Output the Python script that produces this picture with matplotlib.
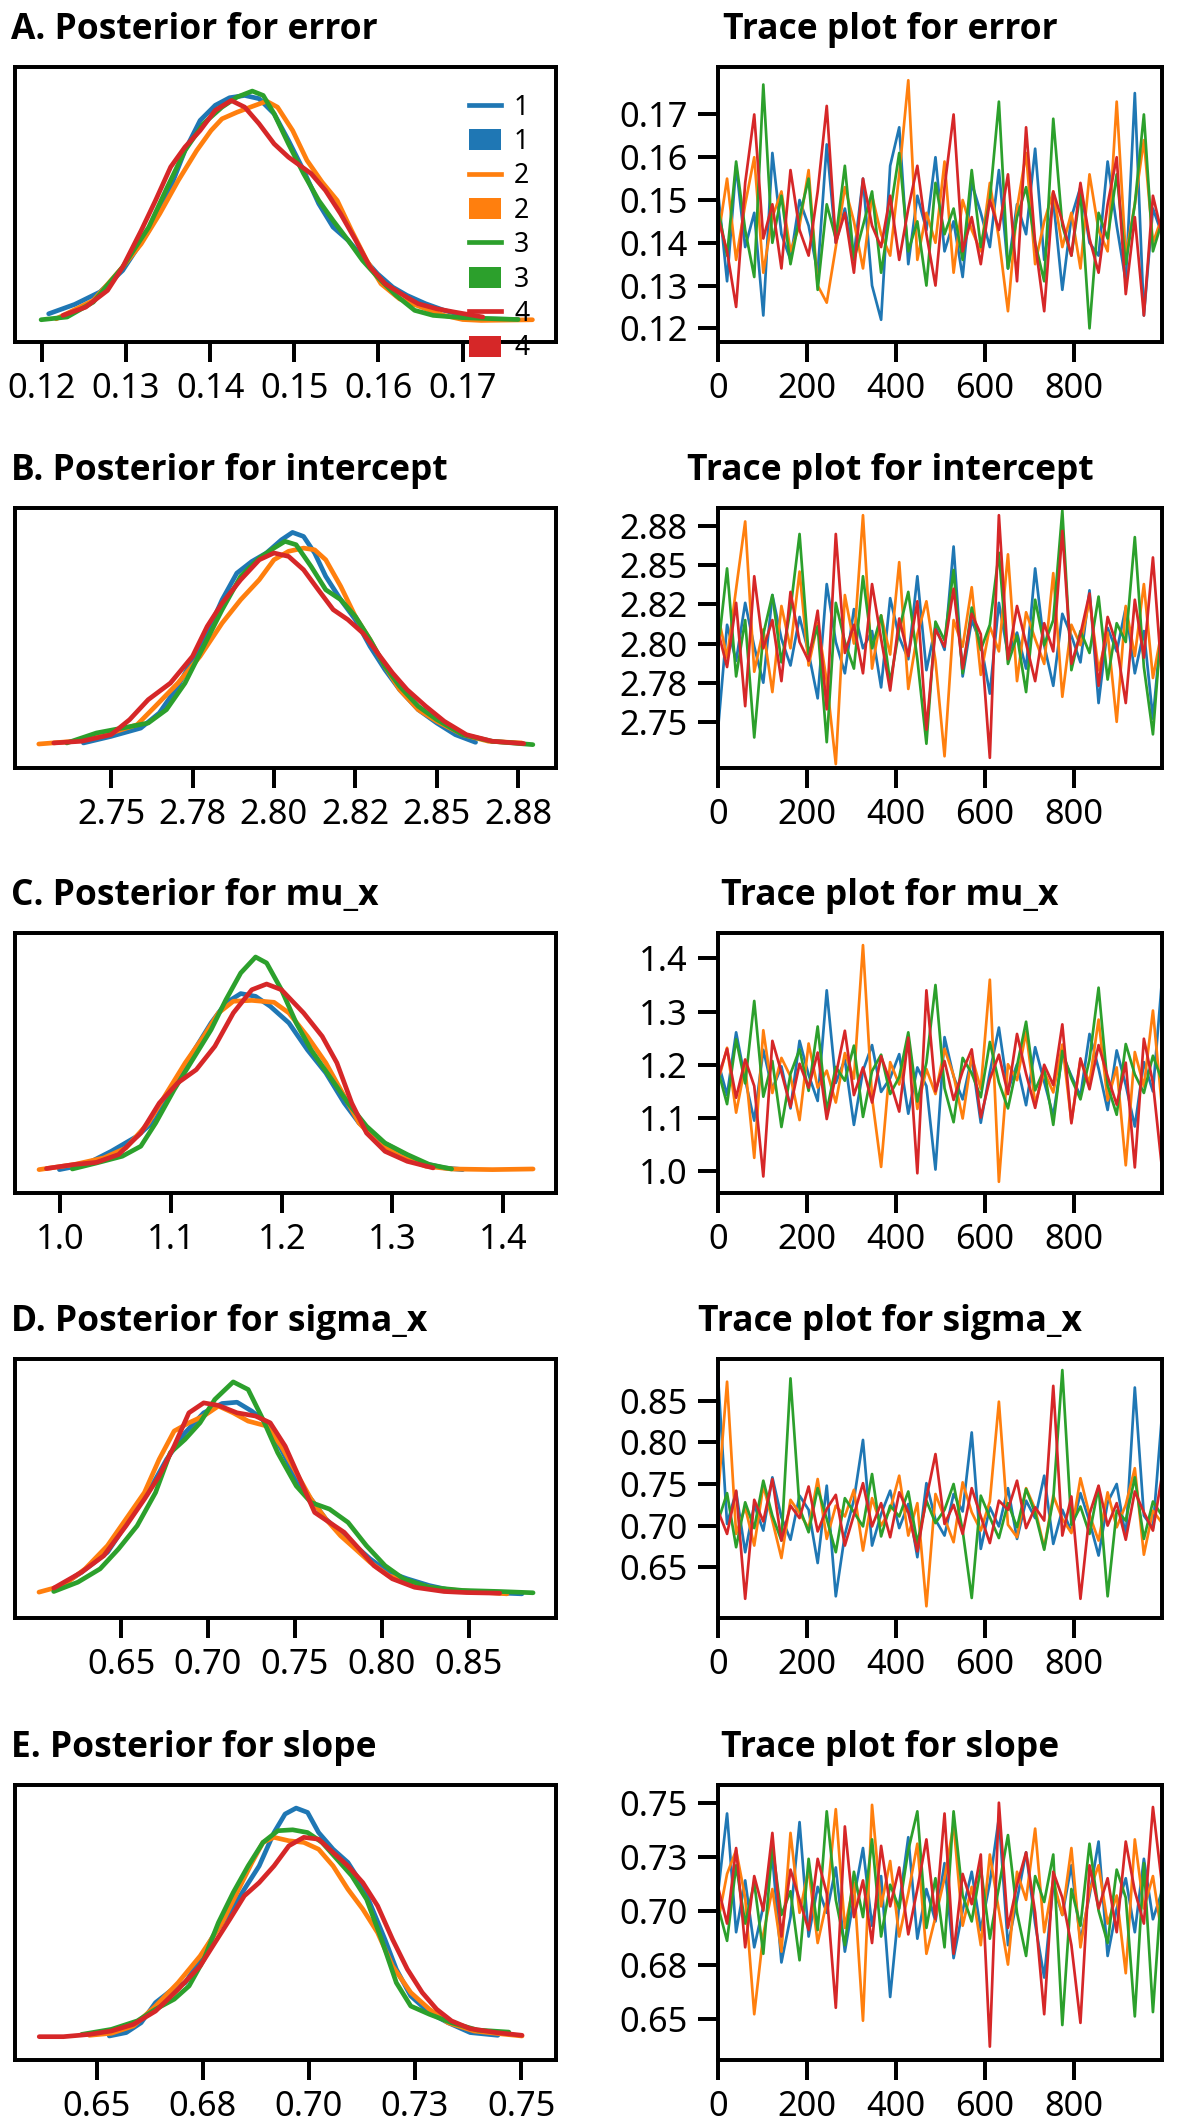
import matplotlib.pyplot as plt
import numpy as np
from matplotlib.lines import Line2D
from matplotlib.patches import Patch

plt.rcParams["font.family"] = ["Noto Sans", "DejaVu Sans"]
TITLE_FONT = ["Open Sans", "DejaVu Sans"]

CHAINS = ["1", "2", "3", "4"]
COLORS = ["#1f77b4", "#ff7f0e", "#2ca02c", "#d62728"]
PARAMS = ["error", "intercept", "mu_x", "sigma_x", "slope"]
LETTERS = ["A", "B", "C", "D", "E"]

# ── posterior densities (relative density, 100 = tallest curve of the panel) ──

error_kde_x = [
    [0.1208, 0.1239, 0.1269, 0.1296, 0.1327, 0.1353, 0.1370, 0.1388, 0.1406, 0.1423, 0.1441, 0.1458, 0.1476, 0.1493,
     0.1511, 0.1529, 0.1546, 0.1564, 0.1581, 0.1599, 0.1617, 0.1634, 0.1656, 0.1678, 0.1700, 0.1722, 0.1766],
    [0.1217, 0.1261, 0.1296, 0.1318, 0.1340, 0.1362, 0.1384, 0.1401, 0.1414, 0.1432, 0.1450, 0.1467, 0.1480, 0.1498,
     0.1515, 0.1533, 0.1551, 0.1568, 0.1586, 0.1603, 0.1625, 0.1656, 0.1678, 0.1700, 0.1722, 0.1783],
    [0.1199, 0.1230, 0.1261, 0.1296, 0.1327, 0.1349, 0.1370, 0.1392, 0.1414, 0.1432, 0.1450, 0.1463, 0.1476, 0.1493,
     0.1511, 0.1529, 0.1546, 0.1564, 0.1581, 0.1599, 0.1621, 0.1643, 0.1665, 0.1700, 0.1766],
    [0.1225, 0.1252, 0.1278, 0.1296, 0.1318, 0.1335, 0.1353, 0.1370, 0.1388, 0.1406, 0.1425, 0.1441, 0.1458, 0.1476,
     0.1493, 0.1520, 0.1537, 0.1555, 0.1573, 0.1590, 0.1608, 0.1630, 0.1647, 0.1669, 0.1691, 0.1724],
]
error_kde_y = [
    [2.9, 7.0, 12.4, 21.8, 39.2, 58.1, 74.1, 87.2, 93.8, 97.1, 98.1, 96.7, 90.1, 78.5,
     65.4, 50.9, 40.7, 34.9, 27.6, 20.3, 14.5, 10.9, 7.3, 4.4, 2.2, 0.7, 0.4],
    [0.7, 8.7, 23.3, 33.4, 46.5, 61.0, 74.1, 82.8, 87.9, 90.8, 93.3, 95.6, 93.0, 82.8,
     69.8, 60.3, 52.3, 39.2, 26.2, 16.0, 9.4, 5.1, 2.2, 0.4, 0.0, 0.3],
    [0.3, 1.5, 8.0, 23.3, 40.7, 58.1, 74.1, 85.8, 93.0, 97.4, 100.0, 98.1, 90.1, 77.0,
     64.0, 52.3, 43.6, 34.9, 26.2, 18.9, 10.9, 4.4, 2.2, 1.2, 0.4],
    [2.2, 5.8, 13.1, 23.3, 39.2, 52.3, 66.9, 75.6, 82.8, 91.6, 95.9, 93.0, 85.8, 77.0,
     71.2, 64.0, 56.7, 46.5, 34.9, 23.3, 16.0, 10.9, 7.3, 5.1, 3.6, 1.5],
]

intercept_kde_x = [
    [2.7415, 2.7500, 2.7591, 2.7648, 2.7705, 2.7750, 2.7795, 2.7841, 2.7886, 2.7932, 2.7977, 2.8023, 2.8057, 2.8091,
     2.8125, 2.8159, 2.8205, 2.8250, 2.8295, 2.8341, 2.8386, 2.8443, 2.8500, 2.8557, 2.8619],
    [2.7278, 2.7386, 2.7500, 2.7580, 2.7636, 2.7705, 2.7773, 2.7841, 2.7898, 2.7955, 2.8000, 2.8045, 2.8091, 2.8125,
     2.8159, 2.8205, 2.8250, 2.8295, 2.8341, 2.8386, 2.8443, 2.8500, 2.8580, 2.8659, 2.8761],
    [2.7364, 2.7455, 2.7534, 2.7614, 2.7670, 2.7727, 2.7784, 2.7841, 2.7898, 2.7955, 2.8000, 2.8034, 2.8068, 2.8114,
     2.8159, 2.8205, 2.8250, 2.8295, 2.8341, 2.8386, 2.8443, 2.8500, 2.8580, 2.8670, 2.8795],
    [2.7324, 2.7409, 2.7500, 2.7557, 2.7614, 2.7682, 2.7750, 2.7795, 2.7841, 2.7898, 2.7955, 2.8000, 2.8045, 2.8091,
     2.8136, 2.8182, 2.8227, 2.8273, 2.8318, 2.8364, 2.8409, 2.8466, 2.8523, 2.8591, 2.8670, 2.8767],
]
intercept_kde_y = [
    [0.8, 3.9, 7.8, 14.9, 27.5, 40.0, 52.6, 68.3, 80.8, 86.3, 90.3, 96.5, 100.0, 98.1,
     90.3, 79.3, 68.3, 58.9, 46.3, 35.3, 25.9, 16.5, 10.2, 4.7, 1.1],
    [0.3, 1.6, 5.5, 9.4, 18.1, 29.0, 41.6, 57.3, 68.3, 77.7, 87.1, 91.1, 92.6, 91.8,
     87.1, 74.6, 60.4, 49.5, 36.9, 25.9, 16.5, 11.0, 4.7, 1.6, 0.8],
    [0.8, 5.5, 7.8, 10.2, 16.5, 29.0, 46.3, 63.6, 79.3, 87.9, 92.6, 95.8, 94.2, 84.0,
     73.0, 68.3, 60.4, 49.5, 36.9, 27.5, 18.1, 11.8, 4.7, 1.6, 0.0],
    [0.8, 1.6, 4.7, 11.8, 21.2, 29.0, 41.6, 55.7, 66.7, 77.7, 87.1, 90.3, 88.7, 82.4,
     73.0, 63.6, 58.9, 52.6, 43.2, 33.8, 25.9, 18.1, 11.0, 4.7, 1.6, 0.5],
]

mu_x_kde_x = [
    [0.9990, 1.0224, 1.0458, 1.0692, 1.0860, 1.1027, 1.1194, 1.1361, 1.1495, 1.1629, 1.1763, 1.1896, 1.2064, 1.2231,
     1.2398, 1.2565, 1.2699, 1.2866, 1.3067, 1.3268, 1.3468, 1.3635],
    [0.9806, 1.0124, 1.0391, 1.0592, 1.0793, 1.0960, 1.1127, 1.1294, 1.1428, 1.1562, 1.1729, 1.1930, 1.2064, 1.2231,
     1.2398, 1.2565, 1.2699, 1.2866, 1.3067, 1.3301, 1.3535, 1.3903, 1.4271],
    [1.0107, 1.0324, 1.0559, 1.0726, 1.0860, 1.1027, 1.1194, 1.1361, 1.1495, 1.1629, 1.1763, 1.1863, 1.1997, 1.2130,
     1.2264, 1.2431, 1.2599, 1.2766, 1.2933, 1.3134, 1.3334, 1.3535],
    [0.9873, 1.0124, 1.0324, 1.0525, 1.0726, 1.0893, 1.1060, 1.1227, 1.1395, 1.1562, 1.1729, 1.1863, 1.1997, 1.2197,
     1.2365, 1.2498, 1.2632, 1.2766, 1.2933, 1.3134, 1.3368],
]
mu_x_kde_y = [
    [0.0, 2.4, 8.6, 15.7, 23.5, 39.2, 54.9, 69.0, 78.4, 82.8, 81.5, 76.8, 69.0, 56.4,
     45.5, 31.3, 21.9, 14.1, 8.6, 3.1, 0.8, 0.0],
    [0.0, 2.4, 5.5, 10.2, 21.9, 36.1, 50.2, 62.7, 73.7, 79.2, 79.6, 78.7, 73.7, 62.7,
     50.2, 34.5, 21.9, 12.5, 6.3, 1.6, 0.3, 0.0, 0.3],
    [0.3, 3.1, 6.3, 11.0, 21.9, 37.6, 51.7, 65.8, 79.9, 92.5, 100.0, 97.2, 84.6, 69.0,
     56.4, 43.9, 31.3, 20.4, 12.5, 7.1, 2.4, 0.3],
    [0.5, 2.4, 3.4, 7.1, 17.2, 31.3, 40.8, 47.0, 58.0, 73.7, 84.6, 87.3, 84.6, 73.7,
     62.7, 50.2, 31.3, 17.2, 8.6, 3.9, 0.8],
]

sigma_x_kde_x = [
    [0.6112, 0.6272, 0.6421, 0.6549, 0.6655, 0.6762, 0.6868, 0.6975, 0.7081, 0.7167, 0.7252, 0.7337, 0.7422, 0.7508,
     0.7593, 0.7678, 0.7763, 0.7848, 0.7933, 0.8040, 0.8146, 0.8274, 0.8402, 0.8572, 0.8807],
    [0.6027, 0.6166, 0.6293, 0.6421, 0.6528, 0.6634, 0.6719, 0.6805, 0.6890, 0.6975, 0.7060, 0.7145, 0.7231, 0.7337,
     0.7422, 0.7508, 0.7593, 0.7678, 0.7763, 0.7848, 0.7933, 0.8040, 0.8146, 0.8317, 0.8487, 0.8721],
    [0.6112, 0.6251, 0.6379, 0.6485, 0.6592, 0.6698, 0.6783, 0.6868, 0.6954, 0.7039, 0.7145, 0.7231, 0.7316, 0.7401,
     0.7508, 0.7593, 0.7699, 0.7806, 0.7912, 0.8019, 0.8125, 0.8274, 0.8466, 0.8679, 0.8871],
    [0.6112, 0.6272, 0.6400, 0.6528, 0.6634, 0.6719, 0.6805, 0.6890, 0.6975, 0.7060, 0.7167, 0.7273, 0.7358, 0.7444,
     0.7529, 0.7614, 0.7699, 0.7784, 0.7870, 0.7955, 0.8061, 0.8189, 0.8359, 0.8487, 0.8679],
]
sigma_x_kde_y = [
    [1.6, 10.2, 19.6, 35.3, 47.8, 63.5, 76.0, 85.4, 89.8, 90.4, 86.2, 80.7, 68.2, 54.1,
     44.7, 35.3, 29.0, 22.7, 16.5, 10.2, 7.1, 3.9, 1.6, 0.8, 0.0],
    [0.8, 3.9, 11.8, 22.7, 35.3, 47.8, 63.5, 76.8, 80.7, 83.9, 88.6, 85.4, 81.5, 79.2,
     69.7, 57.2, 44.7, 35.3, 27.4, 21.2, 14.9, 8.6, 5.5, 2.4, 1.3, 0.0],
    [1.1, 5.5, 11.8, 21.2, 32.1, 47.8, 66.6, 72.9, 80.7, 91.7, 100.0, 96.4, 82.3, 66.6,
     50.9, 43.1, 40.0, 33.7, 22.7, 13.3, 7.1, 3.1, 1.6, 1.1, 0.5],
    [2.7, 10.2, 18.0, 32.1, 44.7, 55.6, 69.7, 85.4, 90.1, 88.9, 85.4, 83.9, 80.7, 69.7,
     54.1, 38.4, 33.7, 29.0, 21.2, 13.3, 7.1, 3.1, 1.1, 0.6, 0.3],
]

slope_kde_x = [
    [0.6530, 0.6570, 0.6605, 0.6639, 0.6674, 0.6709, 0.6744, 0.6779, 0.6814, 0.6848, 0.6883, 0.6918, 0.6944, 0.6970,
     0.6997, 0.7023, 0.7057, 0.7092, 0.7127, 0.7153, 0.7179, 0.7206, 0.7240, 0.7284, 0.7328, 0.7380, 0.7445],
    [0.6483, 0.6535, 0.6587, 0.6639, 0.6692, 0.6744, 0.6796, 0.6831, 0.6866, 0.6892, 0.6918, 0.6953, 0.6988, 0.7023,
     0.7057, 0.7092, 0.7127, 0.7162, 0.7197, 0.7240, 0.7284, 0.7328, 0.7389, 0.7449, 0.7502],
    [0.6465, 0.6535, 0.6596, 0.6639, 0.6683, 0.6718, 0.6753, 0.6787, 0.6822, 0.6857, 0.6892, 0.6927, 0.6962, 0.6997,
     0.7031, 0.7066, 0.7101, 0.7136, 0.7171, 0.7206, 0.7240, 0.7284, 0.7336, 0.7397, 0.7471],
    [0.6365, 0.6422, 0.6483, 0.6535, 0.6587, 0.6639, 0.6692, 0.6744, 0.6779, 0.6814, 0.6848, 0.6883, 0.6918, 0.6953,
     0.6988, 0.7023, 0.7057, 0.7092, 0.7127, 0.7162, 0.7197, 0.7232, 0.7267, 0.7301, 0.7336, 0.7380, 0.7441, 0.7502],
]
slope_kde_y = [
    [0.3, 1.8, 6.1, 14.9, 20.0, 23.6, 33.9, 45.5, 54.3, 64.5, 74.7, 89.3, 97.4, 100.0,
     98.1, 89.3, 82.0, 76.2, 66.0, 54.3, 42.6, 29.5, 17.8, 10.5, 6.1, 1.8, 0.6],
    [0.6, 1.5, 4.7, 13.4, 23.6, 35.3, 49.9, 63.1, 76.2, 85.0, 87.2, 85.7, 85.0, 82.0,
     74.7, 64.5, 55.8, 45.5, 30.9, 19.3, 12.0, 6.1, 2.5, 1.3, 0.3],
    [1.0, 3.2, 6.9, 12.0, 16.4, 22.2, 33.9, 49.9, 63.1, 74.7, 85.0, 90.1, 90.5, 89.3,
     85.0, 77.7, 70.4, 60.1, 42.6, 23.6, 13.4, 9.8, 6.1, 2.9, 2.0],
    [0.0, 0.0, 1.0, 2.5, 5.4, 11.2, 20.7, 30.9, 41.2, 51.4, 61.6, 67.4, 74.7, 83.5,
     87.2, 86.4, 80.6, 74.7, 67.4, 57.2, 42.6, 29.5, 19.3, 12.0, 6.9, 3.5, 1.8, 0.6],
]

N_DRAWS = 1000

error_trace = [
    [0.152, 0.131, 0.158, 0.139, 0.147, 0.123, 0.161, 0.142, 0.136, 0.150, 0.144, 0.133, 0.163, 0.140, 0.148, 0.137,
     0.155, 0.130, 0.122, 0.158, 0.167, 0.135, 0.151, 0.143, 0.160, 0.138, 0.145, 0.132, 0.154, 0.147, 0.139, 0.157,
     0.134, 0.149, 0.142, 0.162, 0.136, 0.150, 0.129, 0.146, 0.153, 0.140, 0.137, 0.159, 0.144, 0.131, 0.175, 0.123,
     0.148, 0.142],
    [0.141, 0.155, 0.136, 0.149, 0.160, 0.133, 0.146, 0.152, 0.138, 0.144, 0.157, 0.130, 0.126, 0.139, 0.153, 0.145,
     0.134, 0.151, 0.142, 0.137, 0.156, 0.178, 0.136, 0.147, 0.140, 0.159, 0.133, 0.150, 0.143, 0.138, 0.154, 0.141,
     0.124, 0.148, 0.161, 0.135, 0.145, 0.152, 0.139, 0.147, 0.134, 0.156, 0.143, 0.138, 0.173, 0.137, 0.149, 0.164,
     0.140, 0.146],
    [0.148, 0.137, 0.159, 0.143, 0.132, 0.177, 0.140, 0.151, 0.135, 0.146, 0.155, 0.129, 0.149, 0.141, 0.158, 0.136,
     0.144, 0.152, 0.133, 0.147, 0.161, 0.138, 0.145, 0.130, 0.154, 0.142, 0.148, 0.136, 0.157, 0.139, 0.150, 0.173,
     0.134, 0.146, 0.153, 0.140, 0.131, 0.169, 0.144, 0.137, 0.152, 0.120, 0.147, 0.141, 0.156, 0.135, 0.149, 0.170,
     0.138, 0.145],
    [0.146, 0.138, 0.125, 0.154, 0.170, 0.141, 0.149, 0.134, 0.157, 0.143, 0.137, 0.152, 0.172, 0.140, 0.147, 0.133,
     0.155, 0.144, 0.139, 0.151, 0.136, 0.148, 0.158, 0.142, 0.130, 0.153, 0.170, 0.138, 0.146, 0.135, 0.150, 0.143,
     0.156, 0.131, 0.167, 0.140, 0.124, 0.152, 0.145, 0.137, 0.154, 0.141, 0.133, 0.149, 0.160, 0.128, 0.146, 0.123,
     0.151, 0.142],
]

intercept_trace = [
    [2.745, 2.812, 2.789, 2.826, 2.798, 2.775, 2.831, 2.803, 2.786, 2.817, 2.794, 2.765, 2.838, 2.801, 2.781, 2.822,
     2.797, 2.808, 2.772, 2.829, 2.804, 2.790, 2.843, 2.783, 2.811, 2.796, 2.862, 2.779, 2.815, 2.800, 2.768, 2.826,
     2.793, 2.807, 2.784, 2.848, 2.799, 2.773, 2.819, 2.805, 2.788, 2.834, 2.762, 2.810, 2.795, 2.823, 2.781, 2.808,
     2.752, 2.815],
    [2.818, 2.791, 2.835, 2.878, 2.782, 2.809, 2.769, 2.824, 2.797, 2.846, 2.786, 2.813, 2.776, 2.723, 2.831, 2.800,
     2.882, 2.784, 2.818, 2.793, 2.852, 2.771, 2.806, 2.827, 2.789, 2.728, 2.815, 2.798, 2.836, 2.780, 2.811, 2.795,
     2.857, 2.776, 2.820, 2.803, 2.787, 2.845, 2.766, 2.812, 2.799, 2.828, 2.783, 2.807, 2.750, 2.824, 2.792, 2.838,
     2.778, 2.809],
    [2.796, 2.848, 2.779, 2.815, 2.740, 2.806, 2.831, 2.788, 2.822, 2.870, 2.793, 2.811, 2.737, 2.826, 2.801, 2.784,
     2.843, 2.797, 2.818, 2.775, 2.809, 2.833, 2.790, 2.736, 2.814, 2.802, 2.847, 2.781, 2.823, 2.796, 2.812, 2.858,
     2.787, 2.805, 2.769, 2.828, 2.799, 2.815, 2.885, 2.783, 2.808, 2.794, 2.830, 2.777, 2.813, 2.801, 2.868, 2.785,
     2.742, 2.817],
    [2.808, 2.785, 2.826, 2.760, 2.843, 2.797, 2.815, 2.776, 2.833, 2.801, 2.789, 2.821, 2.758, 2.870, 2.794, 2.812,
     2.781, 2.838, 2.803, 2.770, 2.816, 2.792, 2.827, 2.745, 2.809, 2.798, 2.835, 2.784, 2.819, 2.806, 2.727, 2.882,
     2.790, 2.824, 2.800, 2.776, 2.813, 2.795, 2.872, 2.787, 2.806, 2.832, 2.773, 2.817, 2.799, 2.762, 2.828, 2.791,
     2.855, 2.778],
]

mu_x_trace = [
    [1.206, 1.143, 1.261, 1.172, 1.095, 1.228, 1.154, 1.197, 1.118, 1.245, 1.181, 1.132, 1.340, 1.166, 1.210, 1.087,
     1.189, 1.237, 1.149, 1.175, 1.220, 1.108, 1.195, 1.160, 1.003, 1.252, 1.178, 1.135, 1.214, 1.091, 1.186, 1.270,
     1.152, 1.201, 1.124, 1.233, 1.168, 1.104, 1.219, 1.179, 1.141, 1.258, 1.193, 1.115, 1.227, 1.162, 1.084, 1.205,
     1.150, 1.360],
    [1.168, 1.232, 1.110, 1.198, 1.025, 1.265, 1.147, 1.213, 1.178, 1.096, 1.240, 1.157, 1.189, 1.129, 1.222, 1.174,
     1.425, 1.138, 1.008, 1.205, 1.163, 1.251, 1.117, 1.192, 1.145, 1.230, 1.180, 1.099, 1.216, 1.155, 1.360, 0.980,
     1.201, 1.171, 1.262, 1.127, 1.187, 1.148, 1.238, 1.093, 1.209, 1.166, 1.285, 1.133, 1.195, 1.011, 1.224, 1.159,
     1.302, 1.120],
    [1.190, 1.126, 1.248, 1.165, 1.320, 1.140, 1.207, 1.083, 1.183, 1.229, 1.151, 1.272, 1.113, 1.196, 1.170, 1.236,
     1.102, 1.188, 1.219, 1.145, 1.177, 1.261, 1.131, 1.204, 1.350, 1.156, 1.092, 1.213, 1.184, 1.139, 1.243, 1.167,
     1.118, 1.198, 1.281, 1.152, 1.192, 1.087, 1.226, 1.174, 1.135, 1.210, 1.345, 1.161, 1.106, 1.239, 1.182, 1.147,
     1.217, 1.170],
    [1.175, 1.230, 1.138, 1.210, 1.160, 0.990, 1.245, 1.186, 1.121, 1.202, 1.157, 1.223, 1.098, 1.180, 1.264, 1.143,
     1.195, 1.129, 1.216, 1.168, 1.112, 1.251, 0.996, 1.340, 1.150, 1.207, 1.134, 1.188, 1.229, 1.101, 1.173, 1.219,
     1.145, 1.258, 1.183, 1.119, 1.200, 1.162, 1.276, 1.090, 1.212, 1.154, 1.237, 1.178, 1.125, 1.204, 1.007, 1.249,
     1.166, 1.005],
]

sigma_x_trace = [
    [0.880, 0.702, 0.741, 0.668, 0.725, 0.694, 0.758, 0.710, 0.683, 0.736, 0.719, 0.655, 0.748, 0.615, 0.689, 0.731,
     0.803, 0.676, 0.714, 0.742, 0.697, 0.726, 0.662, 0.751, 0.707, 0.688, 0.738, 0.717, 0.812, 0.672, 0.722, 0.699,
     0.745, 0.684, 0.730, 0.709, 0.760, 0.678, 0.719, 0.693, 0.739, 0.705, 0.664, 0.728, 0.750, 0.686, 0.866, 0.712,
     0.697, 0.833],
    [0.735, 0.873, 0.690, 0.722, 0.676, 0.748, 0.706, 0.661, 0.731, 0.715, 0.697, 0.756, 0.684, 0.724, 0.711, 0.743,
     0.670, 0.733, 0.700, 0.719, 0.760, 0.688, 0.727, 0.603, 0.738, 0.709, 0.680, 0.752, 0.716, 0.694, 0.729, 0.849,
     0.701, 0.686, 0.745, 0.720, 0.673, 0.736, 0.708, 0.691, 0.757, 0.713, 0.682, 0.740, 0.698, 0.725, 0.769, 0.665,
     0.718, 0.703],
    [0.705, 0.739, 0.674, 0.728, 0.697, 0.754, 0.712, 0.682, 0.877, 0.721, 0.692, 0.745, 0.708, 0.668, 0.733, 0.716,
     0.699, 0.762, 0.687, 0.724, 0.711, 0.741, 0.679, 0.730, 0.703, 0.719, 0.750, 0.694, 0.613, 0.736, 0.710, 0.685,
     0.727, 0.698, 0.744, 0.715, 0.671, 0.732, 0.887, 0.701, 0.723, 0.690, 0.747, 0.615, 0.718, 0.706, 0.758, 0.684,
     0.729, 0.712],
    [0.718, 0.690, 0.742, 0.612, 0.731, 0.705, 0.756, 0.682, 0.724, 0.709, 0.747, 0.693, 0.720, 0.737, 0.676, 0.713,
     0.751, 0.699, 0.727, 0.686, 0.740, 0.716, 0.669, 0.733, 0.786, 0.702, 0.725, 0.690, 0.745, 0.711, 0.679, 0.730,
     0.719, 0.754, 0.697, 0.722, 0.706, 0.868, 0.688, 0.735, 0.612, 0.714, 0.748, 0.700, 0.727, 0.683, 0.741, 0.716,
     0.694, 0.760],
]

slope_trace = [
    [0.708, 0.745, 0.690, 0.714, 0.683, 0.702, 0.725, 0.676, 0.697, 0.741, 0.688, 0.711, 0.699, 0.720, 0.681, 0.706,
     0.729, 0.693, 0.716, 0.660, 0.703, 0.734, 0.687, 0.710, 0.695, 0.722, 0.678, 0.700, 0.718, 0.691, 0.713, 0.743,
     0.684, 0.705, 0.727, 0.694, 0.669, 0.712, 0.698, 0.721, 0.686, 0.707, 0.732, 0.679, 0.701, 0.715, 0.690, 0.724,
     0.696, 0.709],
    [0.695, 0.717, 0.728, 0.706, 0.652, 0.689, 0.710, 0.681, 0.736, 0.699, 0.719, 0.685, 0.704, 0.747, 0.692, 0.713,
     0.649, 0.749, 0.702, 0.723, 0.688, 0.708, 0.731, 0.680, 0.697, 0.715, 0.740, 0.693, 0.711, 0.684, 0.726, 0.700,
     0.675, 0.718, 0.705, 0.738, 0.690, 0.714, 0.698, 0.729, 0.683, 0.709, 0.721, 0.694, 0.707, 0.671, 0.733, 0.701,
     0.716, 0.688],
    [0.702, 0.686, 0.721, 0.694, 0.713, 0.680, 0.730, 0.698, 0.709, 0.677, 0.724, 0.691, 0.746, 0.705, 0.684, 0.718,
     0.697, 0.733, 0.688, 0.712, 0.701, 0.728, 0.746, 0.692, 0.715, 0.683, 0.746, 0.707, 0.695, 0.720, 0.687, 0.711,
     0.735, 0.699, 0.679, 0.716, 0.704, 0.726, 0.647, 0.710, 0.693, 0.731, 0.700, 0.685, 0.719, 0.706, 0.651, 0.722,
     0.653, 0.714],
    [0.711, 0.694, 0.729, 0.683, 0.716, 0.700, 0.736, 0.688, 0.719, 0.705, 0.691, 0.724, 0.708, 0.655, 0.739, 0.697,
     0.714, 0.685, 0.730, 0.702, 0.720, 0.689, 0.710, 0.733, 0.696, 0.745, 0.680, 0.717, 0.703, 0.726, 0.637, 0.750,
     0.692, 0.712, 0.727, 0.699, 0.652, 0.718, 0.706, 0.684, 0.648, 0.721, 0.701, 0.715, 0.690, 0.732, 0.709, 0.694,
     0.748, 0.712],
]

KDE_X = [error_kde_x, intercept_kde_x, mu_x_kde_x, sigma_x_kde_x, slope_kde_x]
KDE_Y = [error_kde_y, intercept_kde_y, mu_x_kde_y, sigma_x_kde_y, slope_kde_y]
TRACES = [error_trace, intercept_trace, mu_x_trace, sigma_x_trace, slope_trace]

# value axis (x of the density, y of the trace) and its ticks
VALUE_LIM = [(0.1168, 0.1811), (2.7205, 2.8866), (0.9589, 1.4478), (0.5889, 0.9003), (0.6308, 0.7582)]
VALUE_TICKS = [
    [0.12, 0.13, 0.14, 0.15, 0.16, 0.17],
    [2.75, 2.775, 2.80, 2.825, 2.85, 2.875],
    [1.0, 1.1, 1.2, 1.3, 1.4],
    [0.65, 0.70, 0.75, 0.80, 0.85],
    [0.65, 0.675, 0.70, 0.725, 0.75],
]
VALUE_TICKLABELS = [
    ["0.12", "0.13", "0.14", "0.15", "0.16", "0.17"],
    ["2.75", "2.78", "2.80", "2.82", "2.85", "2.88"],
    ["1.0", "1.1", "1.2", "1.3", "1.4"],
    ["0.65", "0.70", "0.75", "0.80", "0.85"],
    ["0.65", "0.68", "0.70", "0.73", "0.75"],
]
DENS_LIM = [(-9.4, 110.5), (-11.0, 111.5), (-11.0, 111.3), (-11.4, 110.8), (-10.2, 110.1)]
ITER_TICKS = [0, 200, 400, 600, 800]

# ── layout in pixels ──
W, H, DPI = 1181, 2126, 150
LEFT_X = (15, 556)
RIGHT_X = (718, 1162)
ROWS = [(67, 342), (508, 768), (933, 1193), (1359, 1618), (1785, 2060)]
TITLE_GAP = 28
RIGHT_TITLE_X = 890

SPINE_W = 1.9
TICK_KW = dict(length=9.6, width=1.9, labelsize=16.5, pad=5)
TITLE_KW = dict(fontsize=17, fontweight="bold", family=TITLE_FONT, va="baseline")


def box(x, row):
    top, bot = row
    return [x[0] / W, 1 - bot / H, (x[1] - x[0]) / W, (bot - top) / H]


def _style(ax):
    for s in ax.spines.values():
        s.set_linewidth(SPINE_W)
    ax.tick_params(**TICK_KW)


fig = plt.figure(figsize=(W / DPI, H / DPI), dpi=DPI)

for i, p in enumerate(PARAMS):
    top, bot = ROWS[i]

    # posterior density per chain
    ax = fig.add_axes(box(LEFT_X, ROWS[i]))
    for c in range(len(CHAINS)):
        ax.plot(KDE_X[i][c], KDE_Y[i][c], color=COLORS[c], lw=2.25,
                solid_capstyle="round", solid_joinstyle="round")
    ax.set_xlim(*VALUE_LIM[i])
    ax.set_ylim(*DENS_LIM[i])
    ax.set_xticks(VALUE_TICKS[i])
    ax.set_xticklabels(VALUE_TICKLABELS[i])
    ax.set_yticks([])
    _style(ax)
    fig.text(11 / W, 1 - (top - TITLE_GAP) / H, f"{LETTERS[i]}. Posterior for {p}",
             ha="left", **TITLE_KW)

    if i == 0:
        handles, labels = [], []
        for c, name in enumerate(CHAINS):
            handles.append(Line2D([], [], color=COLORS[c], lw=2.25))
            handles.append(Patch(facecolor=COLORS[c], edgecolor="none"))
            labels += [name, name]
        ax.legend(handles, labels, loc="upper right", frameon=False, fontsize=12.8,
                  labelspacing=0.24, handlelength=1.2, handleheight=0.82, handletextpad=0.5,
                  borderaxespad=0.6)

    # trace per chain
    axt = fig.add_axes(box(RIGHT_X, ROWS[i]))
    for c in range(len(CHAINS)):
        vals = TRACES[i][c]
        draws = np.linspace(0, N_DRAWS - 1, len(vals))
        axt.plot(draws, vals, color=COLORS[c], lw=1.3)
    axt.set_xlim(0, N_DRAWS - 1)
    axt.set_xticks(ITER_TICKS)
    axt.set_ylim(*VALUE_LIM[i])
    axt.set_yticks(VALUE_TICKS[i])
    axt.set_yticklabels(VALUE_TICKLABELS[i])
    _style(axt)
    fig.text(RIGHT_TITLE_X / W, 1 - (top - TITLE_GAP) / H, f"Trace plot for {p}",
             ha="center", **TITLE_KW)

fig.savefig("out.png", dpi=DPI)
